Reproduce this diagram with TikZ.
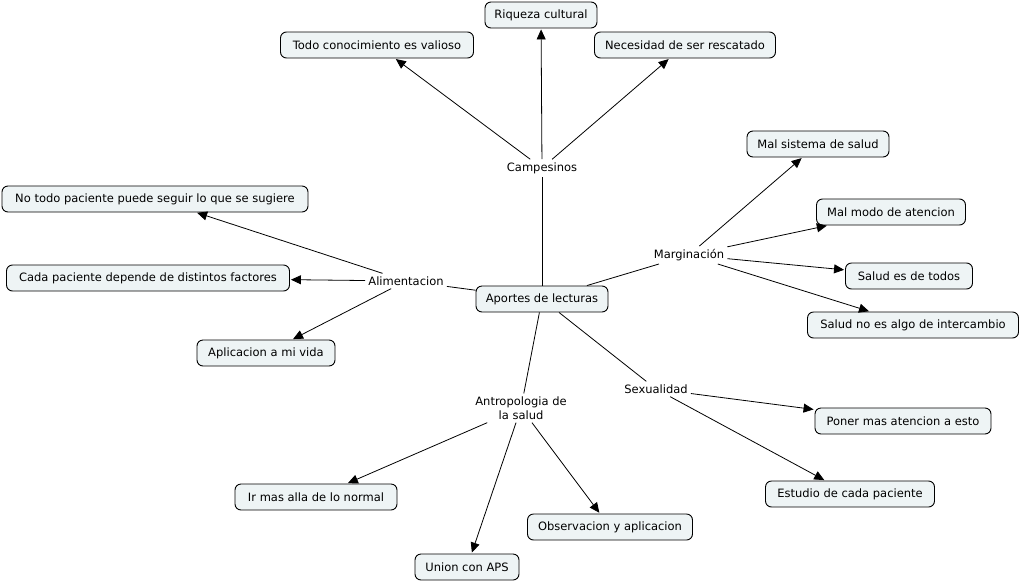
\documentclass[tikz,border=0pt]{standalone}
\usepackage{fontspec}
\setmainfont{DejaVu Sans}
\usetikzlibrary{arrows.meta}
\definecolor{boxfill}{RGB}{238,244,245}
\tikzset{
  cbox/.style={draw=black, fill=boxfill, rounded corners=6pt, line width=0.9pt, minimum height=26pt, inner xsep=3pt, inner ysep=0pt, font=\fontsize{11.5}{14}\selectfont},
  link/.style={inner sep=3pt, font=\fontsize{11.5}{14}\selectfont, align=center},
  conn/.style={line width=0.8pt, draw=black},
  arr/.style={conn, -{Triangle[length=10pt,width=9pt]}, shorten >=1pt},
}
\begin{document}
\begin{tikzpicture}[x=1pt,y=-1pt]
\useasboundingbox (0,0) rectangle (1021,582);
% boxes
\node[cbox, minimum width=112pt] (riq) at (541,15) {Riqueza cultural};
\node[cbox, minimum width=193pt] (todo) at (377,45) {Todo conocimiento es valioso};
\node[cbox, minimum width=181pt] (nec) at (685,45) {Necesidad de ser rescatado};
\node[cbox, minimum width=142pt] (malsis) at (818,144) {Mal sistema de salud};
\node[cbox, minimum width=149pt] (malmod) at (891,212) {Mal modo de atencion};
\node[cbox, minimum width=127pt] (saltod) at (909,276) {Salud es de todos};
\node[cbox, minimum width=211pt] (salno) at (913,325) {Salud no es algo de intercambio};
\node[cbox, minimum width=306pt] (notodo) at (155,199) {No todo paciente puede seguir lo que se sugiere};
\node[cbox, minimum width=283pt] (cada) at (148,278) {Cada paciente depende de distintos factores};
\node[cbox, minimum width=132pt] (aport) at (542,299) {Aportes de lecturas};
\node[cbox, minimum width=138pt] (aplic) at (266,353) {Aplicacion a mi vida};
\node[cbox, minimum width=176pt] (poner) at (903,421) {Poner mas atencion a esto};
\node[cbox, minimum width=169pt] (estud) at (850,494) {Estudio de cada paciente};
\node[cbox, minimum width=162pt] (irmas) at (316,497) {Ir mas alla de lo normal};
\node[cbox, minimum width=165pt] (obser) at (610,527) {Observacion y aplicacion};
\node[cbox, minimum width=104pt] (union) at (467,567) {Union con APS};
% linking phrases
\node[link] (camp) at (542,168) {Campesinos};
\node[link] (marg) at (689,255) {Marginación};
\node[link] (alim) at (406,281) {Alimentacion};
\node[link] (sexu) at (656,389) {Sexualidad};
\node[link] (antr) at (521,408) {Antropologia de\\la salud};
% connectors
\draw[conn] (aport) -- (camp);
\draw[arr] (camp) -- (riq);
\draw[arr] (camp) -- (todo);
\draw[arr] (camp) -- (nec);
\draw[conn] (aport) -- (marg);
\draw[arr] (marg) -- (malsis);
\draw[arr] (marg) -- (malmod);
\draw[arr] (marg) -- (saltod);
\draw[arr] (marg) -- (salno);
\draw[conn] (aport) -- (alim);
\draw[arr] (alim) -- (notodo);
\draw[arr] (alim) -- (cada);
\draw[arr] (alim) -- (aplic);
\draw[conn] (aport) -- (antr);
\draw[arr] (antr) -- (irmas);
\draw[arr] (antr) -- (union);
\draw[arr] (antr) -- (obser);
\draw[conn] (aport) -- (sexu);
\draw[arr] (sexu) -- (poner);
\draw[arr] (sexu) -- (estud);
\end{tikzpicture}
\end{document}
